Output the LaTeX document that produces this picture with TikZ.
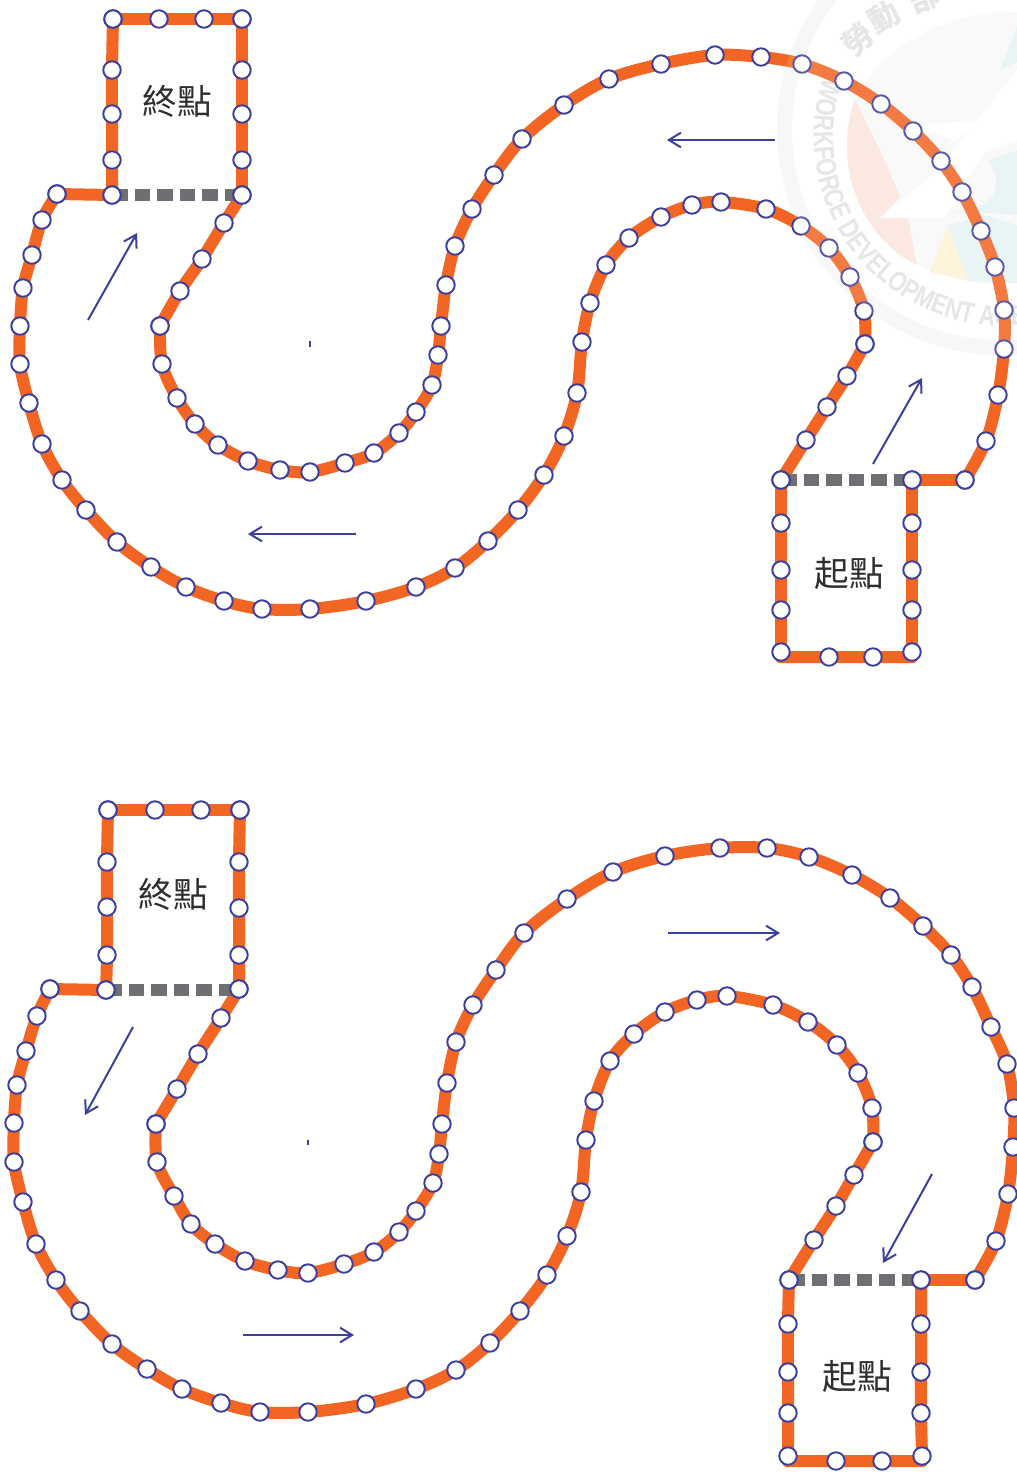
\documentclass[tikz,border=0pt]{standalone}
\usepackage{fontspec}
\newfontfamily\wmfont[FakeStretch=0.8]{Liberation Sans}
\newfontfamily\cjk{Noto Sans CJK TC}
\usetikzlibrary{arrows.meta,decorations.text}
\definecolor{trackcol}{HTML}{F26522}
\definecolor{stopcol}{HTML}{3D3F9F}
\definecolor{dashcol}{HTML}{6E6F72}
\definecolor{wmgray}{HTML}{E2E2E2}
\definecolor{wmpale}{HTML}{F9F9F9}
\definecolor{wmring}{HTML}{F6F6F6}
\definecolor{wmorange}{HTML}{FBE5DC}
\definecolor{wmyellow}{HTML}{FEF3D6}
\definecolor{wmteal}{HTML}{E6F4F3}
\tikzset{
  trackseg/.style={draw=trackcol,line width=9pt,line cap=round,line join=round},
  gatedash/.style={draw=dashcol,line width=8.8pt,dash pattern=on 11.7pt off 5.2pt},
  stopdot/.style={circle,draw=stopcol,fill=white,line width=1.45pt,minimum size=13.1pt,inner sep=0pt},
  flow/.style={draw=stopcol,line width=1.5pt,-{Straight Barb[length=9pt,width=11pt,line width=1.5pt]}},
  place/.style={font=\cjk\fontsize{26}{28}\selectfont,text=black!82,inner sep=0pt},
  wmchar/.style={font=\cjk\bfseries\fontsize{23}{25}\selectfont,text=wmgray,inner sep=0pt},
  tickmark/.style={draw=stopcol,line width=0.9pt}
}
% one smooth run of the track through named coordinates
\newcommand\trackrun[2]{%
  \gdef\runacc{}%
  \foreach \px/\py [count=\n from 1] in #2 {
    \coordinate (#1p\n) at (\px,\py);
    \xdef\runacc{\runacc (#1p\n)}
  }
  \edef\rundraw{\noexpand\draw[trackseg] plot[smooth,tension=0.55] coordinates {\runacc};}%
  \rundraw
}
% stops: the points at the two y values below only bend the line and carry no stop
\newcommand\trackstops[2]{%
  \foreach \px/\py [count=\n from 1] in #2 {
    \ifdim\py pt=657.01pt\else\ifdim\py pt=1461.01pt\else
      \node[stopdot] (#1s\n) at (\px,\py) {};
    \fi\fi
  }
}
\newcommand\flowarrow[3]{%
  \coordinate (#1a) at (#2); \coordinate (#1b) at (#3);
  \draw[flow] (#1a) -- (#1b);
}
\begin{document}
\begin{tikzpicture}[x=0.75pt,y=-0.75pt]
\def\topruns{%
 {113/19,159/19,204/19,242/19},%
 {242/19,242/70,242/114,242/160,242/195},%
 {242/195,224/223,202/259,180/291,160/326},%
 {160/326,162/364,177/398,195/424,218/445,248/461,280/470,310/472,345/463,374/453,399/433,416/412,432/385,438/355,441/326,446/285,455/246,472/209,494/175,522/139,564/105,609/79,661/64,715/55,761/57,802/64,844/81,881/104,913/131,941/161,962/192,981/231,995/267,1004/310,1004/349,998/395,986/441,965/480},%
 {965/480,912/480},%
 {912/480,912/523,912/570,912/610,912/652,912/657.01},%
 {912/657.01,873/657,829/657,781/657.01},%
 {781/657.01,781/652,781/610,781/570,781/523,781/480},%
 {781/480,806/440,827/407,847/376,865/344},%
 {865/344,864/311,850/277,829/248,801/226,766/209,721/202,692/205,661/217,629/238,606/265,590/303,582/342,577/393,564/436,544/475,518/510,488/541,455/568,416/587,366/601,310/609,262/609,224/601,186/587,151/567,117/542,86/510,62/480,42/444,29/403,20/364,20/326,23/288,32/255,42/220,57/194},%
 {57/194,112/195},%
 {112/195,112/160,112/114,112/70,113/19}}
\def\botruns{%
 {108/810,155/810,201/810,240/810},%
 {240/810,239/862,239/908,239/955,239/989},%
 {239/989,221/1018,198/1054,177/1089,156/1124},%
 {156/1124,157/1162,174/1196,191/1224,215/1244,245/1261,278/1270,308/1273,344/1264,374/1252,399/1232,416/1211,433/1183,439/1154,442/1124,447/1083,456/1042,473/1005,496/970,524/933,567/899,613/872,665/856,720/848,767/848,809/857,852/875,890/898,923/926,951/955,972/987,991/1027,1007/1064,1014/1108,1013/1147,1008/1194,996/1241,975/1280},%
 {975/1280,921/1280},%
 {921/1280,921/1324,921/1372,921/1413,922/1456,922/1461.01},%
 {922/1461.01,882/1461,836/1461,788/1461.01},%
 {788/1461.01,788/1456,788/1413,788/1372,788/1324,789/1280},%
 {789/1280,814/1240,836/1206,854/1175,873/1142},%
 {873/1142,872/1108,858/1073,837/1045,808/1022,773/1005,727/996,697/1000,665/1012,634/1034,610/1061,594/1101,586/1140,581/1192,567/1236,547/1275,520/1311,490/1343,456/1370,416/1389,366/1404,308/1412,260/1412,221/1403,182/1389,147/1369,112/1344,80/1311,56/1280,36/1244,23/1202,14/1162,14/1123,17/1085,26/1051,37/1016,50/989},%
 {50/989,106/990},%
 {106/990,107/955,107/907,107/862,108/810}}
\useasboundingbox (0,0) rectangle (1017,1472);
\fill[white] (0,0) rectangle (1017,1472);
% watermark, under the track
\coordinate (wmc) at (1002,130);
\fill[wmring] (wmc) circle[radius=168.75pt];
\fill[white] (wmc) circle[radius=157.5pt];
\fill[wmpale] (855,100) .. controls (880,50) and (940,12) .. (1017,12) -- (1017,283) .. controls (940,290) and (850,250) .. (847,145) .. controls (846,130) and (850,110) .. (855,100) -- cycle;
\fill[wmorange] (855,100) .. controls (846,125) and (845,150) .. (850,175) .. controls (858,215) and (885,250) .. (917,265) -- (908,218) -- (880,218) -- (900,197) .. controls (890,170) and (870,130) .. (855,100) -- cycle;
\fill[wmyellow] (948,225) -- (930,272) -- (968,281) -- cycle;
\fill[wmteal] (948,225) -- (968,281) -- (1017,283) -- (1017,225) -- (985,215) -- cycle;
\fill[wmteal] (945,212) .. controls (985,212) and (1010,195) .. (988,160) -- (1017,150) -- (1017,215) -- (985,213) -- cycle;
\fill[wmteal] (1000,70) -- (1017,25) -- (1017,62) -- cycle;
\fill[white] (880,218) -- (938,170) -- (960,142) -- (1017,70) -- (1017,140) -- (985,152) -- (945,218) -- cycle;
\fill[white] (887,135) .. controls (910,125) and (950,122) .. (977,122) -- (955,142) .. controls (935,130) and (910,128) .. (887,135) -- cycle;
\path[decorate,decoration={text along path,text align=left,text={|\wmfont\bfseries\fontsize{21}{23}\selectfont\color{wmgray}|WORKFORCE DEVELOPMENT AGENCY}}]
  ([shift={(1004,136)}]162:142.5pt) arc[start angle=162,end angle=310,radius=142.5pt];
\node[wmchar,rotate=42] (wm1) at (858,40) {勞};
\node[wmchar,rotate=30] (wm2) at (884,17) {動};
\node[wmchar,rotate=20] (wm3) at (925,-3) {部};
% tracks
\foreach \run [count=\k] in \topruns { \trackrun{t\k}{\run} }
\foreach \run [count=\k] in \botruns { \trackrun{b\k}{\run} }
% gates
\coordinate (g1a) at (112,195); \coordinate (g1b) at (242,195);
\coordinate (g2a) at (781,480); \coordinate (g2b) at (912,480);
\coordinate (g3a) at (106,990); \coordinate (g3b) at (239,990);
\coordinate (g4a) at (789,1280); \coordinate (g4b) at (921,1280);
\draw[gatedash] (g1a) -- (g1b);
\draw[gatedash] (g2a) -- (g2b);
\draw[gatedash] (g3a) -- (g3b);
\draw[gatedash] (g4a) -- (g4b);
% stops
\foreach \run [count=\k] in \topruns { \trackstops{t\k}{\run} }
\foreach \run [count=\k] in \botruns { \trackstops{b\k}{\run} }
% labels
\node[place] (end1) at (177,101) {終點};
\node[place] (start1) at (849,573) {起點};
\node[place] (end2) at (173,894) {終點};
\node[place] (start2) at (857,1376) {起點};
% arrows
\flowarrow{f1}{775,140}{667,140}
\flowarrow{f2}{356,534}{248,534}
\flowarrow{f3}{88,320}{137,233}
\flowarrow{f4}{873,464}{922,378}
\flowarrow{f5}{668,933}{780,933}
\flowarrow{f6}{243,1335}{354,1335}
\flowarrow{f7}{133,1027}{85,1115}
\flowarrow{f8}{932,1174}{883,1263}
% tiny marks
\coordinate (m1a) at (310,341); \coordinate (m1b) at (310,347);
\coordinate (m2a) at (308,1140); \coordinate (m2b) at (308,1145);
\draw[tickmark] (m1a) -- (m1b);
\draw[tickmark] (m2a) -- (m2b);
% watermark wash over the track
\fill[white,opacity=0.14] (wmc) circle[radius=168.75pt];
\end{tikzpicture}
\end{document}
